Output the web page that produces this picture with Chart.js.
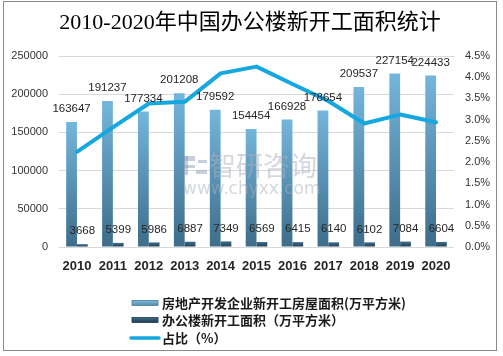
<!DOCTYPE html>
<html><head><meta charset="utf-8">
<script src="https://cdn.jsdelivr.net/npm/chart.js@4/dist/chart.umd.min.js"></script>
<style>html,body{margin:0;padding:0;background:#fff}#wrap{position:relative;width:503px;height:356px}</style>
</head><body><div id="wrap"><canvas id="c" width="503" height="356"></canvas></div>
<script>
const years = ['2010','2011','2012','2013','2014','2015','2016','2017','2018','2019','2020'];
const totalArea = [163647,191237,177334,201208,179592,154454,166928,178654,209537,227154,224433];
const officeArea = [3668,5399,5986,6887,7349,6569,6415,6140,6102,7084,6604];
const sharePct = [2.24,2.82,3.38,3.42,4.09,4.25,3.84,3.44,2.91,3.12,2.94];
const leftMax = 250000, leftStep = 50000;
const rightMax = 4.5, rightStep = 0.5;
const titleText = '2010-2020年中国办公楼新开工面积统计';
const legendLabels = ['房地产开发企业新开工房屋面积(万平方米)','办公楼新开工面积（万平方米）','占比（%）'];

function barGrad(top, bottom){
  return function(ctx){
    const c = ctx.chart;
    if(!c.chartArea || !c.scales.y || ctx.raw === undefined) return top;
    const y0 = c.scales.y.getPixelForValue(ctx.raw);
    const y1 = c.scales.y.getPixelForValue(0);
    if(!isFinite(y0) || !isFinite(y1) || y0 === y1) return top;
    const g = c.ctx.createLinearGradient(0, y0, 0, y1);
    g.addColorStop(0, top); g.addColorStop(1, bottom);
    return g;
  };
}

const extras = {
  id:'extras',
  afterDatasetsDraw(chart){
    const ctx = chart.ctx;
    // watermark
    ctx.save();
    ctx.globalAlpha = 0.5;
    ctx.fillStyle = '#a9b0ba';
    ctx.font = '27px "Noto Sans CJK SC", sans-serif';
    ctx.textAlign = 'left'; ctx.textBaseline = 'middle';
    ctx.fillText('智研咨询', 209, 166);
    ctx.font = '17px "DejaVu Sans", sans-serif';
    ctx.fillText('www.chyxx.com', 183, 190);
    ctx.fillStyle = '#8f9fb8';
    ctx.fillRect(184, 156, 11, 5); ctx.fillRect(184, 156, 4, 19); ctx.fillRect(184, 165, 11, 3);
    ctx.fillRect(198, 160, 9, 3); ctx.fillRect(196, 170, 11, 4);
    ctx.restore();
    // data labels
    ctx.save();
    ctx.fillStyle = '#262626';
    ctx.font = '11.5px "Liberation Sans", Arial, sans-serif';
    ctx.textAlign = 'center'; ctx.textBaseline = 'middle';
    [0,1].forEach(di => {
      const meta = chart.getDatasetMeta(di);
      const data = chart.data.datasets[di].data;
      meta.data.forEach((el, i) => {
        ctx.fillText(String(data[i]), el.x, el.y - 13);
      });
    });
    ctx.restore();
  },
  afterDraw(chart){
    const ctx = chart.ctx;
    ctx.save();
    // title
    ctx.fillStyle = '#000';
    ctx.font = '22px "Liberation Serif", "Noto Sans CJK SC", serif';
    ctx.textAlign = 'center'; ctx.textBaseline = 'middle';
    ctx.fillText(titleText, 250, 23);
    // legend
    const rows = [303, 320, 338];
    const sw1 = ctx.createLinearGradient(0, 300, 0, 306);
    sw1.addColorStop(0, '#86c0e0'); sw1.addColorStop(1, '#4f88aa');
    ctx.fillStyle = sw1; ctx.fillRect(132, rows[0]-2.5, 26, 5);
    ctx.strokeStyle = '#4a7d9c'; ctx.lineWidth = 0.8; ctx.strokeRect(132, rows[0]-2.5, 26, 5);
    const sw2 = ctx.createLinearGradient(0, 317, 0, 323);
    sw2.addColorStop(0, '#3f6e8c'); sw2.addColorStop(1, '#1e3b50');
    ctx.fillStyle = sw2; ctx.fillRect(132, rows[1]-2.5, 26, 5);
    ctx.strokeStyle = '#1e3b50'; ctx.strokeRect(132, rows[1]-2.5, 26, 5);
    ctx.strokeStyle = '#15a7e0'; ctx.lineWidth = 3.5; ctx.lineCap = 'round';
    ctx.beginPath(); ctx.moveTo(131, rows[2]); ctx.lineTo(159, rows[2]); ctx.stroke();
    ctx.fillStyle = '#1a1a1a';
    ctx.font = 'bold 13px "Noto Sans CJK SC", sans-serif';
    ctx.textAlign = 'left';
    legendLabels.forEach((t, i) => ctx.fillText(t, 162, rows[i]));
    // frame
    ctx.strokeStyle = '#8a8a8a'; ctx.lineWidth = 1;
    ctx.strokeRect(3.5, 1.5, 493, 349);
    ctx.restore();
  }
};

new Chart(document.getElementById('c'), {
  data: {
    labels: years,
    datasets: [
      {type:'bar', label:legendLabels[0], data: totalArea, yAxisID:'y', order:1,
       backgroundColor: barGrad('#74b6dc', '#3d6d8a'), categoryPercentage:0.6, barPercentage:1.0},
      {type:'bar', label:legendLabels[1], data: officeArea, yAxisID:'y', order:1,
       backgroundColor: barGrad('#3f6f8e', '#1f3c51'), categoryPercentage:0.6, barPercentage:1.0},
      {type:'line', label:legendLabels[2], data: sharePct, yAxisID:'y1', order:0,
       borderColor:'#15a7e0', borderWidth:4, pointRadius:0, tension:0, fill:false, borderCapStyle:'round', borderJoinStyle:'round'}
    ]
  },
  options: {
    responsive:false, animation:false, devicePixelRatio:1,
    layout:{padding:{top:56, left:0, right:0, bottom:0}},
    plugins:{legend:{display:false}, title:{display:false}, tooltip:{enabled:false}},
    scales:{
      x:{
        grid:{display:false, drawTicks:false}, border:{display:false},
        ticks:{color:'#262626', font:{family:'"Liberation Sans", Arial, sans-serif', size:13, weight:'bold'}, padding:12, maxRotation:0},
        afterFit(s){ s.height = 109; }
      },
      y:{
        position:'left', min:0, max:leftMax,
        grid:{color:'#d9d9d9', lineWidth:1, drawTicks:false}, border:{display:false},
        ticks:{stepSize:leftStep, color:'#333', padding:11, font:{family:'"Liberation Sans", Arial, sans-serif', size:11},
               callback:v => String(v)},
        afterFit(s){ s.width = 59; }
      },
      y1:{
        position:'right', min:0, max:rightMax,
        grid:{display:false, drawTicks:false}, border:{display:false},
        ticks:{stepSize:rightStep, color:'#333', padding:11, font:{family:'"Liberation Sans", Arial, sans-serif', size:11},
               callback:v => Number(v).toFixed(1) + '%'},
        afterFit(s){ s.width = 49; }
      }
    }
  },
  plugins:[extras]
});
</script></body></html>
